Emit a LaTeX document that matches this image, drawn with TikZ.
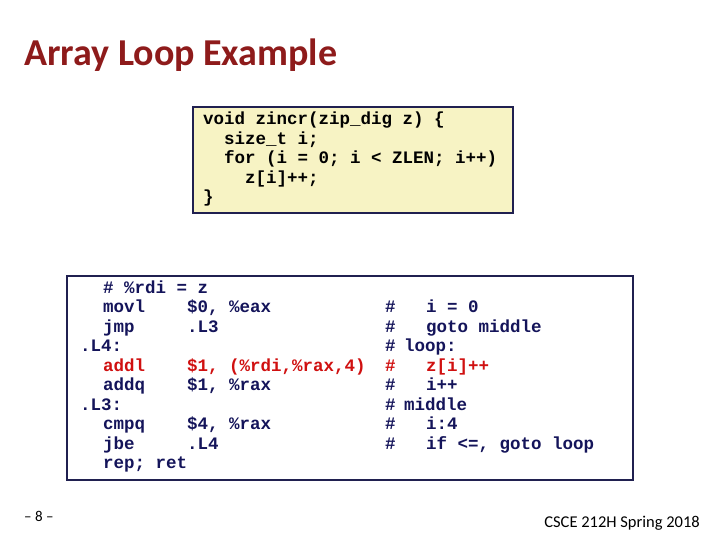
\documentclass[tikz,border=0pt]{standalone}
\usepackage{fontspec}
\setmainfont{Carlito}
\newfontfamily\codefont{Liberation Mono}
\definecolor{titlered}{HTML}{8E1B1B}
\definecolor{navy}{HTML}{14145A}
\definecolor{codered}{HTML}{D01010}
\definecolor{boxfill}{HTML}{F7F3C4}
\definecolor{boxline}{HTML}{202050}
\begin{document}
\begin{tikzpicture}[x=1pt,y=-1pt,
  code/.style={anchor=base west,inner sep=0pt,font=\codefont\bfseries\fontsize{17.5}{19}\selectfont},
  boxst/.style={draw=boxline,line width=1.6pt}]
\useasboundingbox (0,0) rectangle (720,540);
\node[anchor=base west,inner sep=0pt,text=titlered,font=\fontsize{38}{40}\selectfont\bfseries] (title) at (24,66) {Array Loop Example};
% top box
\draw[boxst,fill=boxfill] (193,107) rectangle (513,213);
\foreach \t [count=\i from 0] in {{void zincr(zip\_dig z) \{},{\ \ size\_t i;},{\ \ for (i = 0; i < ZLEN; i++)},{\ \ \ \ z[i]++;},{\}}}
  \node[code] (c\i) at (203,125+19.5*\i) {\t};
% bottom box
\draw[boxst,fill=white] (67,276) rectangle (633,480);
\begin{scope}[every node/.style={code,text=navy}]
\node (l0) at (103,293) {\# \%rdi = z};
\node (l1) at (103,312.5) {movl}; \node (o1) at (187,312.5) {\$0, \%eax};
\node (l2) at (103,332) {jmp}; \node (o2) at (187,332) {.L3};
\node (l3) at (80,351.5) {.L4:};
\node[text=codered] (l4) at (103,371) {addl}; \node[text=codered] (o4) at (187,371) {\$1, (\%rdi,\%rax,4)};
\node (l5) at (103,390.5) {addq}; \node (o5) at (187,390.5) {\$1, \%rax};
\node (l6) at (80,410) {.L3:};
\node (l7) at (103,429.5) {cmpq}; \node (o7) at (187,429.5) {\$4, \%rax};
\node (l8) at (103,449) {jbe}; \node (o8) at (187,449) {.L4};
\node (l9) at (103,468.5) {rep; ret};
\foreach \y/\t/\x [count=\k] in {312.5/{i = 0}/426, 332/{goto middle}/426, 351.5/{loop:}/404, 390.5/{i++}/426, 410/{middle}/404, 429.5/{i:4}/426, 449/{if <=, goto loop}/426}{
  \node (h\k) at (385,\y) {\#};
  \node (m\k) at (\x,\y) {\t};
}
\node[text=codered] (hr) at (385,371) {\#};
\node[text=codered] (mr) at (426,371) {z[i]++};
\end{scope}
\node[anchor=base west,inner sep=0pt,font=\fontsize{15}{16}\selectfont] (pg) at (24,521) {– 8 –};
\node[anchor=base east,inner sep=0pt,font=\fontsize{16.5}{18}\selectfont] (ft) at (700,527) {CSCE 212H Spring 2018};
\end{tikzpicture}
\end{document}
